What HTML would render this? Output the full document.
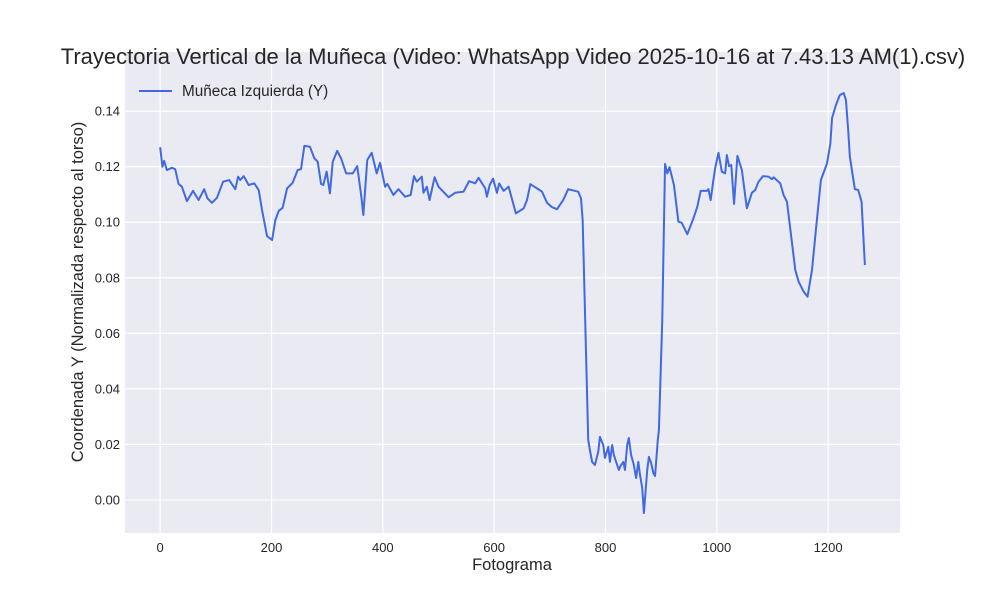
<!DOCTYPE html>
<html><head><meta charset="utf-8"><style>
body{margin:0;background:#fff;}
svg{display:block;font-family:"Liberation Sans",sans-serif;}
</style></head><body>
<svg id="chart" width="1000" height="600">
<rect x="0" y="0" width="1000" height="600" fill="#fff"/>
<rect x="125" y="52" width="775" height="481" fill="#eaeaf2"/>
<g id="grid"></g><g id="ticks"></g><g id="series"></g>
<text x="513" y="64" text-anchor="middle" font-size="22" fill="#262626">Trayectoria Vertical de la Muñeca (Video: WhatsApp Video 2025-10-16 at 7.43.13 AM(1).csv)</text>
<text x="512" y="570" text-anchor="middle" font-size="16.5" fill="#262626">Fotograma</text>
<text transform="translate(83,292) rotate(-90)" text-anchor="middle" font-size="16.5" fill="#262626">Coordenada Y (Normalizada respecto al torso)</text>
<g>
<line x1="139" y1="91" x2="172" y2="91" stroke="#4169e1" stroke-width="2"/>
<text x="182" y="96" font-size="15.3" fill="#262626">Muñeca Izquierda (Y)</text>
</g>
</svg>
<script>
const frames=[0,4,7,12,21,27,33,39,48,59,69,79,85,93,102,113,124,135,140,144,150,159,169,177,183,192,201,207,213,220,228,238,247,253,259,269,277,283,289,293,299,305,310,318,325,334,346,354,361,365,372,380,389,395,404,408,419,428,440,450,456,461,470,473,479,484,493,500,518,530,545,555,566,572,584,587,592,598,605,609,617,626,639,653,659,665,677,686,695,704,713,724,733,751,756,759,769,772,776,781,787,790,796,799,805,808,812,815,821,824,828,832,835,839,842,846,851,855,859,862,866,869,875,878,882,886,889,894,896,902,907,911,915,923,931,937,947,958,965,971,982,985,989,993,997,1003,1009,1015,1018,1022,1026,1031,1037,1045,1054,1063,1069,1075,1083,1093,1099,1102,1114,1120,1126,1141,1147,1156,1163,1171,1178,1187,1198,1204,1207,1214,1221,1228,1232,1236,1239,1248,1254,1260,1266];
const wristY=[0.1270,0.1200,0.1221,0.1188,0.1196,0.1191,0.1138,0.1128,0.1076,0.1113,0.1080,0.1119,0.1086,0.1070,0.1088,0.1146,0.1152,0.1119,0.1164,0.1152,0.1166,0.1134,0.1140,0.1116,0.1044,0.0950,0.0936,0.1008,0.1041,0.1052,0.1122,0.1142,0.1188,0.1191,0.1275,0.1272,0.1230,0.1218,0.1138,0.1134,0.1182,0.1104,0.1218,0.1257,0.1230,0.1176,0.1176,0.1202,0.1098,0.1026,0.1224,0.1250,0.1176,0.1214,0.1128,0.1138,0.1098,0.1119,0.1092,0.1098,0.1166,0.1146,0.1164,0.1106,0.1128,0.1080,0.1162,0.1128,0.1090,0.1106,0.1110,0.1148,0.1140,0.1160,0.1122,0.1092,0.1134,0.1157,0.1106,0.1140,0.1113,0.1128,0.1032,0.1050,0.1080,0.1137,0.1122,0.1110,0.1070,0.1054,0.1047,0.1080,0.1119,0.1110,0.1086,0.1008,0.0216,0.0180,0.0137,0.0126,0.0173,0.0227,0.0198,0.0151,0.0191,0.0137,0.0198,0.0162,0.0126,0.0108,0.0126,0.0137,0.0108,0.0198,0.0223,0.0162,0.0126,0.0079,0.0137,0.0090,0.0043,-0.0047,0.0108,0.0155,0.0133,0.0097,0.0086,0.0216,0.0252,0.0648,0.1210,0.1176,0.1198,0.1134,0.1002,0.0998,0.0957,0.1014,0.1056,0.1113,0.1113,0.1119,0.1080,0.1140,0.1194,0.1250,0.1182,0.1176,0.1242,0.1202,0.1206,0.1066,0.1239,0.1188,0.1050,0.1106,0.1116,0.1146,0.1166,0.1164,0.1155,0.1162,0.1140,0.1098,0.1074,0.0828,0.0786,0.0750,0.0732,0.0828,0.0972,0.1152,0.1212,0.1284,0.1375,0.1422,0.1458,0.1465,0.1440,0.1332,0.1236,0.1119,0.1116,0.1074,0.0846];
const xTicks=[0,200,400,600,800,1000,1200];
const yTicks=[0.00,0.02,0.04,0.06,0.08,0.10,0.12,0.14];
const NS='http://www.w3.org/2000/svg';
const L=125,R=900,T=52,B=533;
const xMin=-63.2,xMax=1329.1,yMin=-0.0119,yMax=0.1613;
const sx=v=>L+(v-xMin)/(xMax-xMin)*(R-L);
const sy=v=>B-(v-yMin)/(yMax-yMin)*(B-T);
const grid=document.getElementById('grid'),ticks=document.getElementById('ticks'),series=document.getElementById('series');
function mk(tag,attrs,parent){const e=document.createElementNS(NS,tag);for(const k in attrs)e.setAttribute(k,attrs[k]);parent.appendChild(e);return e;}
xTicks.forEach(t=>{
 const g=mk('line',{x1:sx(t),x2:sx(t),y1:T,y2:B,stroke:'#fff','stroke-width':1.2},grid);
 
 
 const tx=mk('text',{x:sx(t),y:B+19,'text-anchor':'middle','font-size':13,fill:'#262626'},ticks);
 tx.textContent=t;
 
 
});
yTicks.forEach(t=>{
 const g=mk('line',{x1:L,x2:R,y1:sy(t),y2:sy(t),stroke:'#fff','stroke-width':1.2},grid);
 
 
 const tx=mk('text',{x:L-5,y:sy(t)+4.5,'text-anchor':'end','font-size':13,fill:'#262626'},ticks);
 tx.textContent=t.toFixed(2);
 
 
});
const d=frames.map((f,i)=>(i?'L':'M')+sx(f).toFixed(2)+','+sy(wristY[i]).toFixed(2)).join(' ');
const p=mk('path',{d:d,fill:'none',stroke:'#4169e1','stroke-width':2,'stroke-linejoin':'round'},series);


</script>
</body></html>
